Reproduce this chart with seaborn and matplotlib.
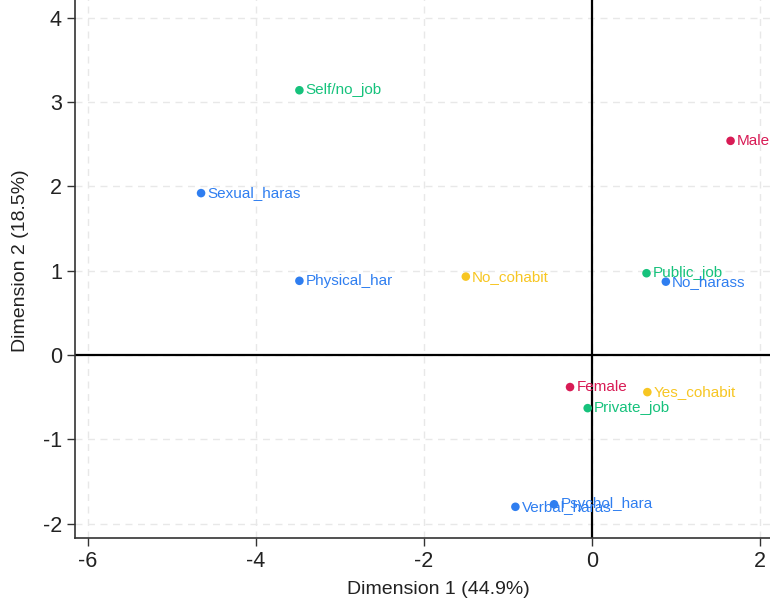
import matplotlib
matplotlib.use("Agg")
import matplotlib.pyplot as plt
import seaborn as sns
import pandas as pd

# Category coordinates on the first two dimensions
categories = ["Self/no_job", "Male", "Sexual_haras", "Physical_har", "No_cohabit",
              "Public_job", "No_harass", "Female", "Yes_cohabit", "Private_job",
              "Psychol_hara", "Verbal_haras"]
dim1 = [-3.48, 1.65, -4.65, -3.48, -1.50, 0.65, 0.88, -0.26, 0.66, -0.05, -0.45, -0.91]
dim2 = [3.14, 2.54, 1.92, 0.88, 0.93, 0.97, 0.87, -0.38, -0.44, -0.63, -1.77, -1.80]
variables = ["job", "sex", "harass", "harass", "cohabit", "job", "harass", "sex",
             "cohabit", "job", "harass", "harass"]

palette = {"harass": "#2f7ef0", "job": "#16c27c", "cohabit": "#f7c623", "sex": "#d81b55"}

df = pd.DataFrame({"cat": categories, "d1": dim1, "d2": dim2, "var": variables})

sns.set_theme(style="white")
plt.rcParams["font.family"] = ["Liberation Sans", "DejaVu Sans"]
plt.rcParams["axes.unicode_minus"] = False

fig = plt.figure(figsize=(7.7, 6.02), dpi=100)
# Plot area runs past the right and top edges of the canvas
ax = fig.add_axes([75 / 770, 64 / 602, 727 / 770, 554 / 602])

ax.set_xlim(-6.15, 2.5)
ax.set_ylim(-2.17, 4.4)
ax.set_xticks([-6, -4, -2, 0, 2])
ax.set_yticks([-2, -1, 0, 1, 2, 3, 4])

ax.grid(True, color="#e8e8e8", linestyle=(0, (5, 4)), linewidth=1.0)
ax.set_axisbelow(True)

ax.axhline(0, color="black", linewidth=1.6, zorder=1)
ax.axvline(0, color="black", linewidth=1.6, zorder=1)

sns.scatterplot(data=df, x="d1", y="d2", hue="var", palette=palette, s=38,
                linewidth=0, legend=False, ax=ax, zorder=3)

for _, r in df.iterrows():
    ax.annotate(r["cat"], (r["d1"], r["d2"]), xytext=(4.5, 0), textcoords="offset points",
                va="center", ha="left", fontsize=11, color=palette[r["var"]], zorder=4)

for side in ["top", "right"]:
    ax.spines[side].set_visible(False)
for side in ["left", "bottom"]:
    ax.spines[side].set_color("#333333")
    ax.spines[side].set_linewidth(1.2)

ax.tick_params(axis="both", which="major", length=6, width=1.0, color="#333333",
               labelsize=15.5, labelcolor="#222222", direction="out", bottom=True, left=True)

ax.set_xlabel("Dimension 1 (44.9%)", fontsize=14, color="#222222", labelpad=6)
ax.set_ylabel("Dimension 2 (18.5%)", fontsize=14, color="#222222", labelpad=10)

fig.savefig("out.png", dpi=100)
